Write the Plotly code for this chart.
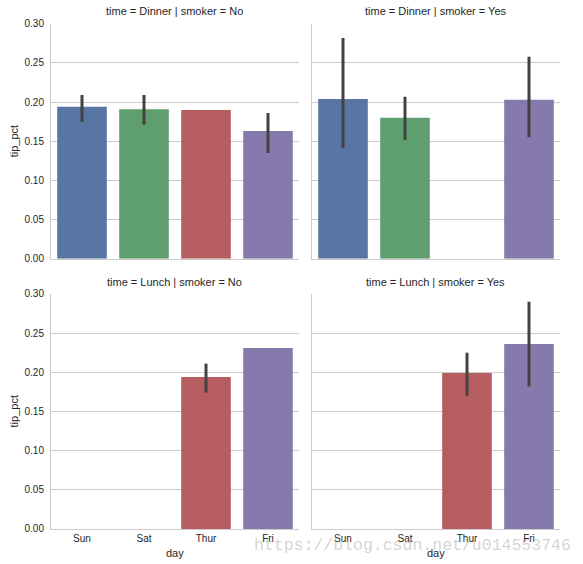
import plotly.graph_objects as go

days = ["Sun", "Sat", "Thur", "Fri"]
day_colors = ["#5875a4", "#5f9e6e", "#b55d60", "#857aab"]

# tip_pct means and 95% CI bounds per facet (None = no data)
dinner_no_mean = [0.194, 0.191, 0.190, 0.163]
dinner_no_lo = [0.175, 0.171, 0.190, 0.135]
dinner_no_hi = [0.209, 0.209, 0.190, 0.186]

dinner_yes_mean = [0.204, 0.180, None, 0.203]
dinner_yes_lo = [0.141, 0.152, None, 0.155]
dinner_yes_hi = [0.282, 0.207, None, 0.258]

lunch_no_mean = [None, None, 0.194, 0.231]
lunch_no_lo = [None, None, 0.174, 0.231]
lunch_no_hi = [None, None, 0.211, 0.231]

lunch_yes_mean = [None, None, 0.199, 0.236]
lunch_yes_lo = [None, None, 0.170, 0.182]
lunch_yes_hi = [None, None, 0.225, 0.290]

y_ticks = [0.00, 0.05, 0.10, 0.15, 0.20, 0.25, 0.30]

facets = [
    ("time = Dinner | smoker = No", dinner_no_mean, dinner_no_lo, dinner_no_hi, "x", "y"),
    ("time = Dinner | smoker = Yes", dinner_yes_mean, dinner_yes_lo, dinner_yes_hi, "x2", "y2"),
    ("time = Lunch | smoker = No", lunch_no_mean, lunch_no_lo, lunch_no_hi, "x3", "y3"),
    ("time = Lunch | smoker = Yes", lunch_yes_mean, lunch_yes_lo, lunch_yes_hi, "x4", "y4"),
]

W, H = 583, 564


def py(target):
    # convert a target pixel row (from top) to a paper fraction, compensating
    # the small vertical offset/scale seen in the rendered capture
    y = (target - 6.3) / 0.978
    return (H - y) / H


xdom = [[51 / W, 299 / W], [312 / W, 560 / W]]
ydom = [[py(259), py(25)], [py(528), py(294)]]

TXT = "#262626"
GRID = "#cccccc"
FONT = "Liberation Sans, Arial, sans-serif"

fig = go.Figure()
annotations = []
for i, (title, mean, lo, hi, xa, ya) in enumerate(facets):
    plus = [(h - m) if m is not None else None for m, h in zip(mean, hi)]
    minus = [(m - l) if m is not None else None for m, l in zip(mean, lo)]
    fig.add_trace(go.Bar(
        x=days, y=mean, xaxis=xa, yaxis=ya,
        width=0.8,
        marker=dict(color=day_colors, line=dict(width=0)),
        error_y=dict(type="data", symmetric=False, array=plus, arrayminus=minus,
                     color="#424242", thickness=3, width=0),
        showlegend=False, hoverinfo="x+y",
    ))
    r, c = divmod(i, 2)
    xd = xdom[c]
    annotations.append(dict(
        text=title, xref="paper", yref="paper",
        x=(xd[0] + xd[1]) / 2, y=py(12 if r == 0 else 282), xanchor="center", yanchor="middle",
        showarrow=False, font=dict(size=11, color=TXT, family=FONT),
    ))

layout = dict(
    width=W, height=H, margin=dict(l=0, r=0, t=0, b=0),
    paper_bgcolor="white", plot_bgcolor="white",
    bargap=0.2, font=dict(family=FONT, color=TXT, size=10),
)
for i in range(4):
    r, c = divmod(i, 2)
    sx = "" if i == 0 else str(i + 1)
    layout["xaxis" + sx] = dict(
        domain=xdom[c], anchor="y" + sx, type="category",
        categoryorder="array", categoryarray=days, range=[-0.5, 3.5],
        showgrid=False, showline=True, linecolor=GRID, linewidth=1,
        ticks="", showticklabels=(r == 1), tickfont=dict(size=10, color=TXT),
        fixedrange=True,
    )
    layout["yaxis" + sx] = dict(
        domain=ydom[r], anchor="x" + sx, range=[0, 0.30],
        tickvals=y_ticks, ticktext=[f"{v:.2f}" for v in y_ticks],
        showgrid=True, gridcolor=GRID, gridwidth=1, zeroline=False,
        showline=True, linecolor=GRID, linewidth=1,
        ticks="", showticklabels=(c == 0), tickfont=dict(size=10, color=TXT),
        ticklabelstandoff=4,
        fixedrange=True,
    )

# axis labels
for r in range(2):
    yd = ydom[r]
    annotations.append(dict(
        text="tip_pct", xref="paper", yref="paper", x=14 / W, y=(yd[0] + yd[1]) / 2,
        textangle=-90, xanchor="center", yanchor="middle", showarrow=False,
        font=dict(size=11, color=TXT, family=FONT),
    ))
for c in range(2):
    xd = xdom[c]
    annotations.append(dict(
        text="day", xref="paper", yref="paper", x=(xd[0] + xd[1]) / 2, y=py(552),
        xanchor="center", yanchor="middle", showarrow=False,
        font=dict(size=11, color=TXT, family=FONT),
    ))

# watermark
annotations.append(dict(
    text="https://blog.csdn.net/u014553746", xref="paper", yref="paper",
    x=252 / W, y=py(544), xanchor="left", yanchor="middle", showarrow=False,
    font=dict(size=16.5, color="rgba(170,170,170,0.5)", family="Liberation Mono, Courier New, monospace"),
))

layout["annotations"] = annotations
fig.update_layout(**layout)
fig.write_html(
    "out.html",
    config={"displayModeBar": False},
    post_script="document.body.style.margin='0';document.body.style.overflow='hidden';",
)
